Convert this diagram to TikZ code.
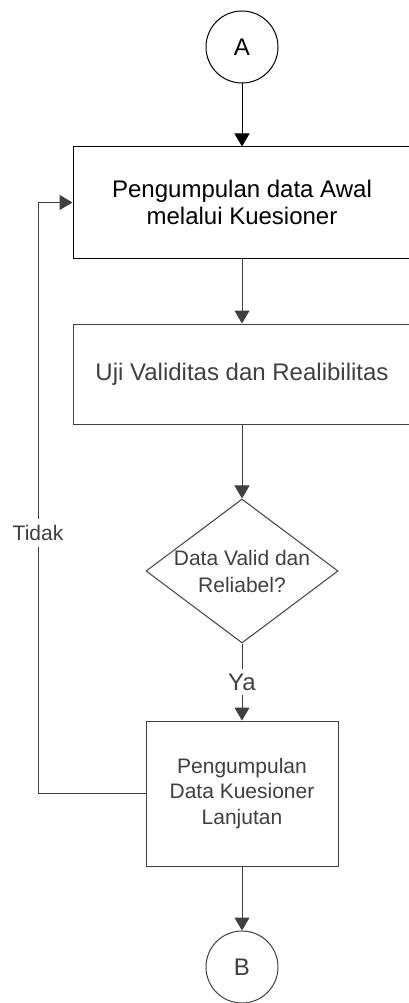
\documentclass[tikz,border=0pt]{standalone}
\usepackage{fontspec}
\setmainfont{Liberation Sans}
\usetikzlibrary{arrows.meta,shapes.geometric}
\definecolor{ink}{HTML}{000000}
\definecolor{soft}{HTML}{404040}
\tikzset{
  flow/.style={line width=1pt,-{Triangle[width=15pt,length=13pt]}},
  conn/.style={circle,draw,line width=1pt,minimum size=72pt,inner sep=0pt,font=\fontsize{24}{27}\selectfont},
  bigbox/.style={rectangle,draw,line width=1pt,minimum width=338pt,align=center,inner sep=0pt,font=\fontsize{24}{27}\selectfont},
  smallbox/.style={rectangle,draw,line width=1pt,minimum width=192pt,minimum height=145pt,align=center,inner sep=0pt,font=\fontsize{21}{25.5}\selectfont},
  decide/.style={diamond,draw,line width=1pt,minimum width=192pt,minimum height=144pt,inner sep=0pt},
  decidetext/.style={align=center,inner sep=0pt,font=\fontsize{21}{27}\selectfont},
  tag/.style={fill=white,inner sep=0pt,font=\fontsize{21}{25}\selectfont}
}
\begin{document}
\begin{tikzpicture}[x=1pt,y=-1pt]
\useasboundingbox (0,0) rectangle (408,1003);
% nodes
\node[conn,draw=ink,text=ink] (a) at (242,47) {A};
\node[bigbox,draw=ink,text=ink,minimum height=111pt] (p1) at (242,202.5) {Pengumpulan data Awal\\melalui Kuesioner};
\node[bigbox,draw=soft,text=soft,minimum height=100pt] (p2) at (242,374) {Uji Validitas dan Realibilitas};
\node[decide,draw=soft] (d) at (242,571) {};
\node[decidetext,text=soft] (dq) at (d.center) {Data Valid dan\\Reliabel?};
\node[smallbox,draw=soft,text=soft] (p3) at (242,793.5) {Pengumpulan\\Data Kuesioner\\Lanjutan};
\node[conn,draw=soft,text=soft] (b) at (242,967) {B};
\coordinate (lb) at (38,793.5);
\coordinate (lt) at (38,202.5);
% connectors
\draw[flow,ink] (a) -- (p1);
\draw[flow,soft] (p1) -- (p2);
\draw[flow,soft] (p2) -- (d);
\draw[flow,soft] (d) -- (p3)
  node[tag,pos=0.5,inner ysep=5pt,font=\fontsize{24}{27}\selectfont,text=soft] (ya) {Ya};
\draw[flow,soft] (p3) -- (b);
\draw[flow,soft] (p3.west) -- (lb) -- (lt) -- (p1.west);
\node[tag,inner ysep=6pt,text=soft] (tidak) at (38,533) {Tidak};
\end{tikzpicture}
\end{document}
